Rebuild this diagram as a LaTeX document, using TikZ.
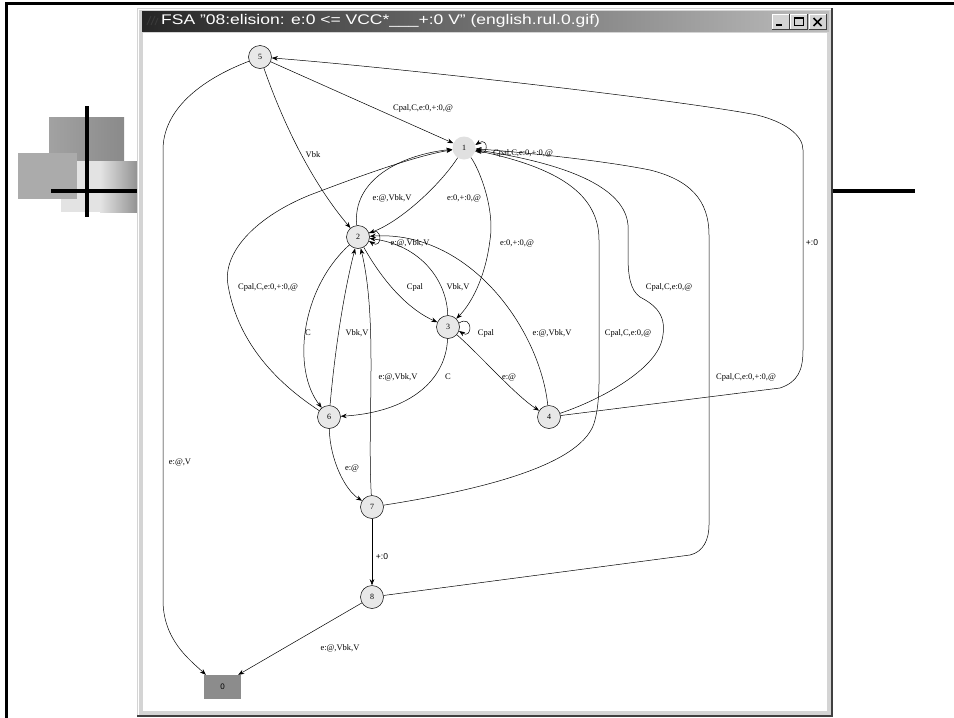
\documentclass[tikz,border=0pt]{standalone}
\usepackage{fontspec}
\setmainfont{Liberation Serif}
\setsansfont{Liberation Sans}
\usetikzlibrary{arrows.meta}
\definecolor{nodefill}{HTML}{E8E8E8}
\definecolor{nonefill}{HTML}{E0E0E0}
\definecolor{finalfill}{HTML}{8C8C8C}
\definecolor{wgray}{HTML}{D4D4D4}
\definecolor{wdark}{HTML}{404040}
\definecolor{tdark}{HTML}{262626}
\definecolor{tlight}{HTML}{BDBDBD}
\definecolor{sqAa}{HTML}{A2A2A2}
\definecolor{sqAb}{HTML}{8A8A8A}
\definecolor{sqB}{HTML}{ABABAB}
\definecolor{sqC}{HTML}{E3E3E3}
\definecolor{sqCb}{HTML}{939393}
\begin{document}
\begin{tikzpicture}[x=1pt,y=-1pt,
  st/.style={circle,draw=black,line width=0.5pt,fill=nodefill,minimum size=23pt,inner sep=0pt,font=\fontsize{8}{9}\selectfont},
  lbl/.style={font=\fontsize{8.5}{10}\selectfont,inner sep=0pt},
  slbl/.style={font=\sffamily\fontsize{8.5}{10}\selectfont,inner sep=0pt},
  e/.style={draw=black,line width=0.5pt,-{Stealth[length=6pt,width=4.5pt]}},
  btn/.style={fill=wgray,draw=wdark,line width=0.6pt}]
\useasboundingbox (0,0) rectangle (954,718);
\fill[white] (0,0) rectangle (954,718);
% decoration at left
\shade[left color=sqAa,right color=sqAb] (49,117) rectangle (124,162);
\fill[sqC] (61,161) rectangle (100,212);
\shade[left color=sqC,right color=sqCb] (100,161) rectangle (137,212);
\fill[sqB] (18,153) rectangle (77,199);
\draw[line width=4pt] (87,106) -- (87,217);
\draw[line width=4pt] (51,191) -- (915,191);
\draw[line width=3pt] (954,3) -- (6,3) -- (6,718);
% window
\fill[wgray] (137,8) rectangle (833,717);
\draw[white,line width=1pt] (138,717) -- (138,9) -- (832,9);
\draw[wdark,line width=2pt] (832,8) -- (832,716) -- (137,716);
\fill[white] (143,33) rectangle (827,711);
\shade[left color=tdark,right color=tlight] (142,11) rectangle (829,31);
\draw[gray!45!black,line width=1pt] (147,25) -- (151,16) (151,25) -- (155,16) (155,25) -- (158,18);
\node[anchor=west,text=white,font=\sffamily\fontsize{14}{16}\selectfont,inner sep=0pt] (title) at (161,21) {\scalebox{1.25}[1]{FSA "08:elision: e:0 <= VCC*\_\_\_+:0 V" (english.rul.0.gif)}};
\foreach \bx/\nm in {772/bmin,790/bmax,809/bclose}{
  \fill[wgray] (\bx,14) rectangle (\bx+17,29);
  \draw[white,line width=0.8pt] (\bx,29) -- (\bx,14) -- (\bx+17,14);
  \draw[wdark,line width=0.8pt] (\bx+17,14) -- (\bx+17,29) -- (\bx,29);
}
\draw[line width=1.6pt] (776,25) -- (782,25);
\draw[line width=0.8pt] (794,17.5) rectangle (803,25.5);
\draw[line width=0.8pt] (794,18.5) -- (803,18.5);
\draw[line width=1.6pt] (813.5,18) -- (821.5,26) (821.5,18) -- (813.5,26);
% states
\node[st,draw=none,fill=nonefill] (n1) at (464,148) {1};
\node[st] (n2) at (358,237) {2};
\node[st] (n3) at (448,327) {3};
\node[st] (n4) at (549,417) {4};
\node[st] (n5) at (260,57) {5};
\node[st] (n6) at (329,417) {6};
\node[st] (n7) at (372,507) {7};
\node[st] (n8) at (372,597) {8};
\node[rectangle,fill=finalfill,minimum width=37pt,minimum height=24pt,inner sep=0pt,font=\sffamily\fontsize{8}{9}\selectfont] (n0) at (222.5,687) {0};
% edges
\draw[e] (n5) -- (n1);
\draw[e] (n5) .. controls (282,120) and (310,180) .. (n2);
\draw[e] (n5) .. controls (200,80) and (163,110) .. (163,150) -- (163,600) .. controls (163,640) and (190,660) .. ([xshift=2pt]n0.north west);
\draw[e] (n4) -- (780,388) .. controls (798,382) and (803,370) .. (803,350) -- (803,150) .. controls (803,135) and (785,122) .. (757,115) .. controls (680,100) and (400,68) .. (n5);
\draw[e] (n1.-15) .. controls +(14,9) and +(14,-9) .. (n1.15);
\draw[e] (n2) .. controls (352,180) and (400,155) .. (n1);
\draw[e] (n1) .. controls (440,185) and (400,222) .. (n2);
\draw[e] (n1) .. controls (480,170) and (495,210) .. (490,240) .. controls (485,280) and (470,305) .. (n3);
\draw[e] (n2.20) .. controls +(14,-9) and +(14,9) .. (n2.-20);
\draw[e] (n2) .. controls (385,285) and (410,310) .. (n3);
\draw[e] (n3) .. controls (447,280) and (420,245) .. (n2);
\draw[e] (n4) .. controls (540,330) and (470,230) .. (n2);
\draw[e] (n3.20) .. controls +(14,-9) and +(14,9) .. (n3.-20);
\draw[e] (n3) .. controls (480,355) and (515,395) .. (n4);
\draw[e] (n3) .. controls (446,380) and (410,412) .. (n6);
\draw[e] (n2) .. controls (300,290) and (292,370) .. (n6);
\draw[e] (n6) .. controls (334,360) and (342,300) .. (n2);
\draw[e] (n7) .. controls (367,420) and (378,320) .. (n2);
\draw[e] (n6) .. controls (280,385) and (238,345) .. (228,285) .. controls (222,250) and (260,215) .. (310,195) .. controls (370,172) and (420,155) .. (n1);
\draw[e] (n6) .. controls (330,460) and (345,490) .. (n7);
\draw[e] (n7) .. controls (480,490) and (585,465) .. (595,420) .. controls (600,400) and (599,380) .. (599,350) -- (599,240) .. controls (599,195) and (560,168) .. (n1);
\draw[e] (n4) .. controls (600,400) and (655,370) .. (662,340) .. controls (668,315) and (655,305) .. (640,297) .. controls (630,290) and (628,275) .. (628,255) -- (628,225) .. controls (625,190) and (575,165) .. (n1);
\draw[e] (n8) -- (690,555) .. controls (703,552) and (709,540) .. (709,525) -- (709,235) .. controls (709,200) and (690,180) .. (650,170) .. controls (600,160) and (520,152) .. (n1);
\draw[e] (n7) -- (n8);
\draw[e] (n8) -- ([xshift=-3pt]n0.north east);
% labels
\node[lbl] (l51) at (423,108) {Cpal,C,e:0,+:0,@};
\node[lbl] (l52) at (313,155) {Vbk};
\node[lbl] (l50) at (180,462) {e:@,V};
\node[slbl] (l45) at (812,243) {+:0};
\node[lbl] (l11) at (523,153) {Cpal,C,e:0,+:0,@};
\node[lbl] (l21) at (392,198) {e:@,Vbk,V};
\node[lbl] (l12) at (464,198) {e:0,+:0,@};
\node[lbl] (l13) at (517,243) {e:0,+:0,@};
\node[lbl] (l22) at (410,243) {e:@,Vbk,V};
\node[lbl] (l61) at (268,287) {Cpal,C,e:0,+:0,@};
\node[lbl] (l23) at (415,287) {Cpal};
\node[lbl] (l32) at (458,287) {Vbk,V};
\node[lbl] (l41a) at (669,287) {Cpal,C,e:0,@};
\node[lbl] (l26) at (308,333) {C};
\node[lbl] (l62) at (357,333) {Vbk,V};
\node[lbl] (l33) at (486,333) {Cpal};
\node[lbl] (l42) at (552,333) {e:@,Vbk,V};
\node[lbl] (l71) at (628,333) {Cpal,C,e:0,@};
\node[lbl] (l72) at (398,377) {e:@,Vbk,V};
\node[lbl] (l36) at (448,377) {C};
\node[lbl] (l34) at (509,377) {e:@};
\node[lbl] (l81) at (746,377) {Cpal,C,e:0,+:0,@};
\node[lbl] (l67) at (352,468) {e:@};
\node[slbl] (l78) at (382,557) {+:0};
\node[lbl] (l80) at (340,648) {e:@,Vbk,V};
\end{tikzpicture}
\end{document}
